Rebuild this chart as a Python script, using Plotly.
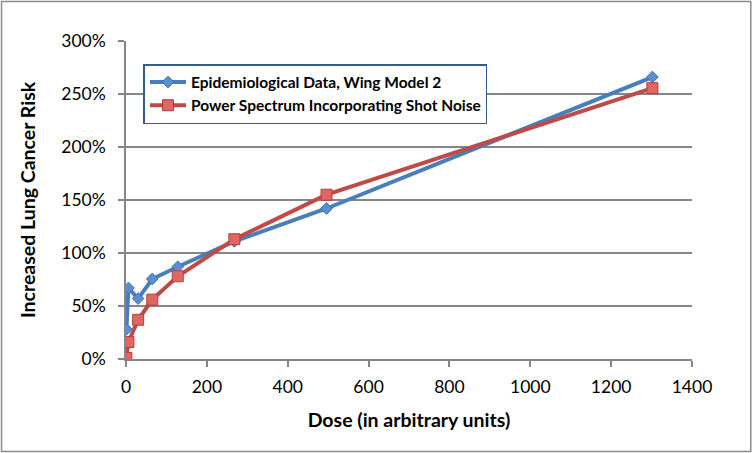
import plotly.graph_objects as go

dose = [1, 6, 30, 65, 128, 268, 496, 1302]
epi_wing = [0.28, 0.67, 0.57, 0.755, 0.87, 1.11, 1.42, 2.66]
power_shot = [0.01, 0.16, 0.37, 0.56, 0.78, 1.13, 1.55, 2.555]
x_ticks = [0, 200, 400, 600, 800, 1000, 1200, 1400]
y_ticks = [0, 0.5, 1.0, 1.5, 2.0, 2.5, 3.0]
y_labels = ["0%", "50%", "100%", "150%", "200%", "250%", "300%"]

font = "Lato, 'Open Sans', sans-serif"

W, H = 752, 453
L, R, T, B = 125.5, 60.3, 41, 94
pw, ph = W - L - R, H - T - B

fig = go.Figure()
fig.add_trace(go.Scatter(
    x=dose, y=epi_wing, mode="lines+markers",
    name="Epidemiological Data, Wing Model 2",
    line=dict(color="#4A7EBB", width=4),
    marker=dict(symbol="diamond", size=9, color="#5B8FD0", line=dict(color="#3E6DA8", width=1)),
))
fig.add_trace(go.Scatter(
    x=dose, y=power_shot, mode="lines+markers",
    name="Power Spectrum Incorporating Shot Noise",
    line=dict(color="#BE4B48", width=4),
    marker=dict(symbol="square", size=11, color="#E06663", line=dict(color="#B3403D", width=1)),
))

fig.update_layout(
    width=W, height=H,
    margin=dict(l=L, r=R, t=T, b=B),
    paper_bgcolor="white", plot_bgcolor="white",
    font=dict(family=font, size=17.5, color="black"),
    showlegend=True,
    legend=dict(
        x=(143 - L) / pw, y=(H - B - 64) / ph, xanchor="left", yanchor="top",
        bgcolor="white", bordercolor="#385D8A", borderwidth=1.5,
        font=dict(family=font, size=15.5, color="black", weight="bold"),
        tracegroupgap=7, itemwidth=36,
    ),
    shapes=[dict(type="rect", xref="paper", yref="paper",
                 x0=(1 - L) / pw, x1=(W - 1.5 - L) / pw,
                 y0=(1.5 - B) / ph, y1=(H - 1.5 - B) / ph,
                 line=dict(color="#8C8C8C", width=1.5))],
)
fig.update_xaxes(
    range=[0, 1400], tickvals=x_ticks, ticktext=[str(v) for v in x_ticks],
    showgrid=False, zeroline=False, showline=True, linecolor="#868686", linewidth=1.5,
    ticks="outside", ticklen=6, tickcolor="#868686", tickwidth=1.5,
    tickfont=dict(size=17.5), ticklabelstandoff=5,
    title=dict(text="Dose (in arbitrary units)", font=dict(size=19.5, weight="bold"), standoff=18),
)
fig.update_yaxes(
    range=[0, 3.0], tickvals=y_ticks, ticktext=y_labels,
    showgrid=True, gridcolor="#868686", gridwidth=1.5, zeroline=False,
    showline=True, linecolor="#868686", linewidth=1.5,
    ticks="outside", ticklen=6, tickcolor="#868686", tickwidth=1.5,
    tickfont=dict(size=17.5), ticklabelstandoff=9,
    title=dict(text="Increased Lung Cancer Risk", font=dict(size=19.5, weight="bold"), standoff=20),
)

fig.write_html("out.html", config={"displayModeBar": False},
               post_script="document.body.style.margin='0';document.body.style.padding='0';")
